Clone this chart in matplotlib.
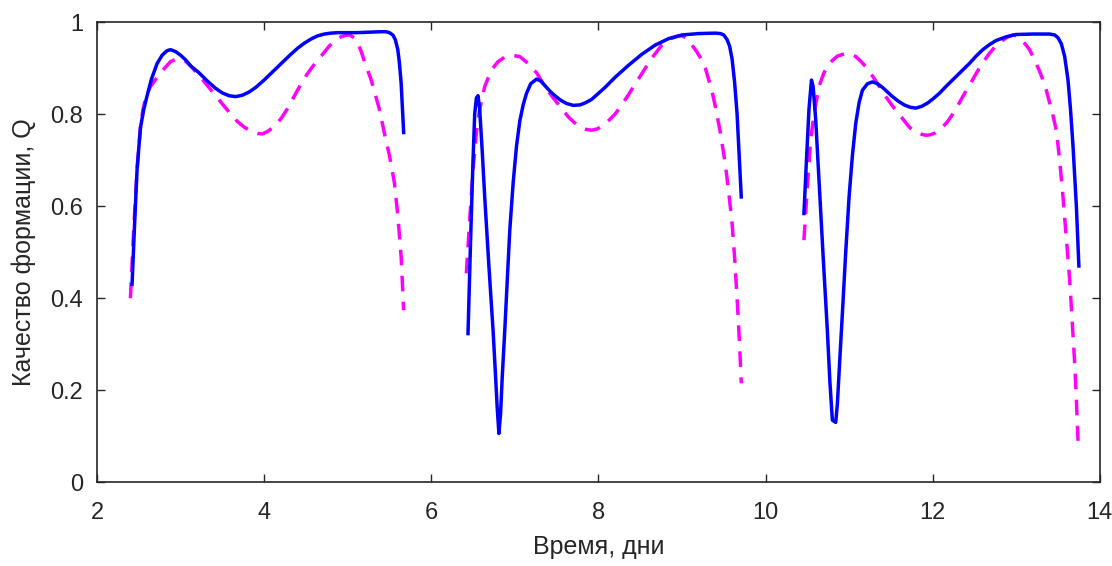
import matplotlib.pyplot as plt
import numpy as np

plt.rcParams['font.family'] = ['Liberation Sans', 'DejaVu Sans']

# Сплошная синяя линия (три участка)
t_blue_1 = [2.42, 2.45, 2.48, 2.52, 2.56, 2.60, 2.65, 2.72, 2.78, 2.84, 2.88, 2.94, 3.00, 3.06, 3.12, 3.22,
            3.32, 3.42, 3.50, 3.58, 3.66, 3.74, 3.82, 3.90, 4.00, 4.08, 4.16, 4.24, 4.32, 4.40, 4.48, 4.56,
            4.64, 4.72, 4.80, 4.88, 4.95, 5.10, 5.25, 5.40, 5.46, 5.50, 5.54, 5.57, 5.60, 5.62, 5.64, 5.67]
q_blue_1 = [0.43, 0.56, 0.68, 0.77, 0.81, 0.84, 0.875, 0.91, 0.928, 0.938, 0.94, 0.936, 0.928, 0.918, 0.905, 0.89,
            0.872, 0.856, 0.846, 0.84, 0.838, 0.841, 0.848, 0.858, 0.874, 0.888, 0.902, 0.916, 0.93, 0.943, 0.954, 0.963,
            0.97, 0.974, 0.976, 0.977, 0.977, 0.977, 0.978, 0.979, 0.979, 0.977, 0.972, 0.962, 0.94, 0.91, 0.867, 0.76]

t_blue_2 = [6.44, 6.47, 6.50, 6.52, 6.54, 6.56, 6.58, 6.61, 6.64, 6.69, 6.74, 6.77, 6.79, 6.81, 6.83, 6.85,
            6.88, 6.91, 6.94, 6.98, 7.02, 7.06, 7.10, 7.14, 7.19, 7.26, 7.31, 7.36, 7.42, 7.48, 7.55, 7.62,
            7.70, 7.78, 7.85, 7.92, 8.00, 8.08, 8.20, 8.36, 8.52, 8.68, 8.84, 9.00, 9.20, 9.40, 9.46, 9.50,
            9.54, 9.57, 9.60, 9.63, 9.66, 9.71]
q_blue_2 = [0.323, 0.52, 0.70, 0.80, 0.835, 0.84, 0.81, 0.72, 0.62, 0.47, 0.33, 0.23, 0.16, 0.106, 0.15, 0.23,
            0.33, 0.44, 0.548, 0.65, 0.73, 0.785, 0.82, 0.845, 0.866, 0.876, 0.872, 0.862, 0.85, 0.84, 0.83, 0.823,
            0.819, 0.82, 0.825, 0.832, 0.845, 0.858, 0.88, 0.906, 0.93, 0.95, 0.964, 0.972, 0.975, 0.976, 0.975, 0.972,
            0.962, 0.948, 0.92, 0.87, 0.80, 0.62]

t_blue_3 = [10.46, 10.49, 10.52, 10.55, 10.57, 10.60, 10.64, 10.69, 10.74, 10.77, 10.80, 10.84, 10.86, 10.89,
            10.92, 10.96, 11.00, 11.04, 11.08, 11.12, 11.16, 11.22, 11.28, 11.34, 11.40, 11.46, 11.52, 11.59,
            11.66, 11.73, 11.80, 11.87, 11.94, 12.01, 12.08, 12.17, 12.26, 12.35, 12.44, 12.52, 12.60, 12.68,
            12.76, 12.88, 13.00, 13.20, 13.40, 13.46, 13.50, 13.54, 13.58, 13.62, 13.65, 13.68, 13.72, 13.75]
q_blue_3 = [0.584, 0.70, 0.81, 0.874, 0.86, 0.79, 0.657, 0.49, 0.33, 0.22, 0.135, 0.13, 0.17, 0.27,
            0.367, 0.50, 0.62, 0.71, 0.78, 0.825, 0.852, 0.866, 0.87, 0.866, 0.858, 0.848, 0.838, 0.828,
            0.82, 0.815, 0.813, 0.817, 0.824, 0.834, 0.845, 0.862, 0.878, 0.894, 0.91, 0.926, 0.94, 0.951,
            0.96, 0.968, 0.973, 0.974, 0.974, 0.972, 0.966, 0.953, 0.925, 0.874, 0.81, 0.73, 0.60, 0.47]

# Пунктирная пурпурная линия (три участка)
t_mag_1 = [2.40, 2.44, 2.48, 2.52, 2.55, 2.59, 2.64, 2.72, 2.80, 2.88, 2.94, 3.00, 3.06, 3.12, 3.24, 3.34,
           3.42, 3.51, 3.60, 3.68, 3.76, 3.84, 3.92, 3.98, 4.04, 4.10, 4.16, 4.22, 4.28, 4.34, 4.40, 4.46,
           4.52, 4.58, 4.64, 4.71, 4.78, 4.85, 4.92, 4.97, 5.02, 5.08, 5.12, 5.16, 5.20, 5.24, 5.28, 5.32,
           5.38, 5.44, 5.50, 5.56, 5.60, 5.64, 5.67]
q_mag_1 = [0.40, 0.55, 0.68, 0.77, 0.81, 0.84, 0.86, 0.88, 0.898, 0.914, 0.919, 0.92, 0.915, 0.905, 0.88, 0.858,
           0.84, 0.82, 0.80, 0.784, 0.772, 0.763, 0.758, 0.757, 0.762, 0.77, 0.78, 0.795, 0.812, 0.832, 0.852, 0.871,
           0.888, 0.903, 0.917, 0.932, 0.948, 0.96, 0.968, 0.971, 0.972, 0.966, 0.955, 0.937, 0.915, 0.895, 0.875, 0.85,
           0.81, 0.758, 0.71, 0.65, 0.58, 0.49, 0.374]

t_mag_2 = [6.42, 6.46, 6.50, 6.54, 6.58, 6.64, 6.72, 6.80, 6.88, 6.96, 7.06, 7.16, 7.26, 7.36, 7.44, 7.50,
           7.57, 7.64, 7.71, 7.78, 7.85, 7.92, 7.99, 8.06, 8.13, 8.20, 8.28, 8.36, 8.44, 8.52, 8.58, 8.64,
           8.70, 8.76, 8.82, 8.88, 8.94, 9.00, 9.06, 9.12, 9.18, 9.24, 9.28, 9.32, 9.36, 9.40, 9.46, 9.52,
           9.56, 9.60, 9.63, 9.66, 9.69, 9.71]
q_mag_2 = [0.454, 0.57, 0.678, 0.76, 0.81, 0.86, 0.896, 0.914, 0.924, 0.928, 0.925, 0.91, 0.89, 0.86, 0.84, 0.826,
           0.81, 0.794, 0.782, 0.772, 0.767, 0.765, 0.768, 0.776, 0.787, 0.80, 0.82, 0.842, 0.865, 0.888, 0.905, 0.922,
           0.936, 0.95, 0.958, 0.965, 0.969, 0.97, 0.965, 0.95, 0.935, 0.917, 0.9, 0.875, 0.85, 0.816, 0.76, 0.69,
           0.63, 0.563, 0.49, 0.40, 0.30, 0.215]

t_mag_3 = [10.46, 10.50, 10.54, 10.58, 10.64, 10.70, 10.76, 10.86, 10.96, 11.02, 11.08, 11.14, 11.20, 11.26,
           11.32, 11.38, 11.44, 11.51, 11.58, 11.65, 11.72, 11.77, 11.82, 11.87, 11.92, 11.97, 12.02, 12.07,
           12.12, 12.18, 12.24, 12.30, 12.36, 12.44, 12.52, 12.60, 12.68, 12.75, 12.82, 12.89, 12.96, 13.01,
           13.06, 13.11, 13.16, 13.20, 13.24, 13.28, 13.32, 13.36, 13.40, 13.44, 13.48, 13.52, 13.56, 13.60,
           13.64, 13.67, 13.70, 13.72, 13.74]
q_mag_3 = [0.526, 0.64, 0.743, 0.80, 0.86, 0.89, 0.91, 0.926, 0.932, 0.931, 0.925, 0.915, 0.903, 0.888,
           0.872, 0.855, 0.838, 0.82, 0.804, 0.788, 0.772, 0.764, 0.759, 0.756, 0.754, 0.755, 0.758, 0.764,
           0.772, 0.784, 0.80, 0.818, 0.838, 0.862, 0.888, 0.912, 0.932, 0.947, 0.958, 0.967, 0.972, 0.97,
           0.962, 0.952, 0.94, 0.925, 0.91, 0.893, 0.874, 0.852, 0.825, 0.797, 0.765, 0.70, 0.62, 0.53,
           0.44, 0.35, 0.258, 0.18, 0.09]

blue_segments = [(t_blue_1, q_blue_1), (t_blue_2, q_blue_2), (t_blue_3, q_blue_3)]
mag_segments = [(t_mag_1, q_mag_1), (t_mag_2, q_mag_2), (t_mag_3, q_mag_3)]

fig = plt.figure(figsize=(11.12, 5.66), dpi=100)
ax = fig.add_axes([0.0872, 0.148, 0.9018, 0.813])

for t, q in mag_segments:
    ax.plot(t, q, color='#ff00ff', linewidth=2.5, linestyle=(0, (4.5, 3.0)))
for t, q in blue_segments:
    ax.plot(t, q, color='#0000ff', linewidth=2.5, solid_joinstyle='round')

ax.set_xlim(2, 14)
ax.set_ylim(0, 1)
ax.set_xticks([2, 4, 6, 8, 10, 12, 14])
ax.set_yticks([0, 0.2, 0.4, 0.6, 0.8, 1])
ax.set_yticklabels(['0', '0.2', '0.4', '0.6', '0.8', '1'])

axis_col = '#262626'
for s in ax.spines.values():
    s.set_color(axis_col)
    s.set_linewidth(1.2)
ax.tick_params(direction='in', length=6, width=1.0, colors=axis_col,
               labelsize=17, top=True, right=True)
ax.tick_params(axis='x', pad=14)
ax.tick_params(axis='y', pad=10)
ax.set_xlabel('Время, дни', fontsize=18, color=axis_col, labelpad=8)
ax.set_ylabel('Качество формации, Q', fontsize=18, color=axis_col, labelpad=10)

fig.savefig('out.png', dpi=100)
